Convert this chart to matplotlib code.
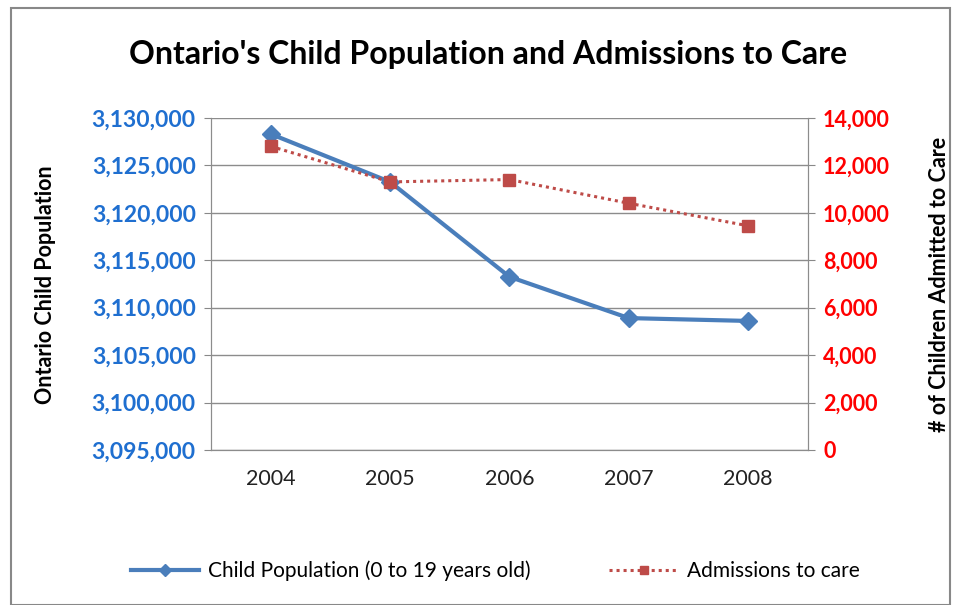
import matplotlib.pyplot as plt
from matplotlib.patches import Rectangle
from matplotlib.ticker import FuncFormatter

# Data
years = ["2004", "2005", "2006", "2007", "2008"]
child_population = [3128300, 3123250, 3113250, 3108900, 3108600]
admissions = [12800, 11300, 11400, 10400, 9450]

plt.rcParams['font.family'] = ['Lato', 'DejaVu Sans']

fig = plt.figure(figsize=(9.61, 6.05), dpi=100)
ax = fig.add_axes([0.2196, 0.2562, 0.621, 0.549])
ax2 = ax.twinx()

x = list(range(len(years)))
blue = '#4A7EBB'
red = '#BE4B48'

l1, = ax.plot(x, child_population, color=blue, lw=3, marker='D', ms=9,
              label='Child Population (0 to 19 years old)', zorder=3)
l2, = ax2.plot(x, admissions, color=red, lw=2.2, ls=(0, (1, 1.3)), marker='s', ms=9,
               label='Admissions to care', zorder=3)

ax.set_xlim(-0.5, 4.5)
ax.set_ylim(3095000, 3130000)
ax.set_yticks(range(3095000, 3130001, 5000))
ax2.set_ylim(0, 14000)
ax2.set_yticks(range(0, 14001, 2000))

fmt = FuncFormatter(lambda v, p: f"{int(v):,}")
ax.yaxis.set_major_formatter(fmt)
ax2.yaxis.set_major_formatter(fmt)

ax.set_xticks(x)
ax.set_xticklabels(years, fontsize=15.5, color='#222222')
ax.tick_params(axis='x', length=0, pad=14)
ax.tick_params(axis='y', colors='#1F6FD0', labelsize=16.5, length=5, pad=6, color='#888888')
ax2.tick_params(axis='y', colors='#FF0000', labelsize=15.5, length=5, pad=6, color='#888888')
for t in ax.get_yticklabels():
    t.set_fontweight('bold')
for t in ax2.get_yticklabels():
    t.set_fontweight('bold')

ax.grid(axis='y', color='#8C8C8C', lw=1)
ax.set_axisbelow(True)
for s in ['top']:
    ax.spines[s].set_visible(False)
    ax2.spines[s].set_visible(False)
for a in (ax, ax2):
    for s in ['left', 'right', 'bottom']:
        a.spines[s].set_color('#8C8C8C')

fig.text(0.047, 0.53, 'Ontario Child Population', rotation=90, ha='center', va='center',
         fontsize=15.5, fontweight='bold')
fig.text(0.978, 0.53, '# of Children Admitted to Care', rotation=90, ha='center', va='center',
         fontsize=15.5, fontweight='bold')
fig.text(0.508, 0.91, "Ontario's Child Population and Admissions to Care", ha='center', va='center',
         fontsize=23, fontweight='bold')

fig.legend(handles=[l1, l2], loc='center', bbox_to_anchor=(0.515, 0.057), ncol=2, frameon=False,
           fontsize=15, handlelength=3.3, handletextpad=0.4, columnspacing=3.8, markerscale=0.7)

fig.patches.append(Rectangle((0.011, 0.0), 0.978, 0.986, transform=fig.transFigure,
                             fill=False, edgecolor='#888888', lw=1.5))

fig.savefig('out.png', dpi=100)
